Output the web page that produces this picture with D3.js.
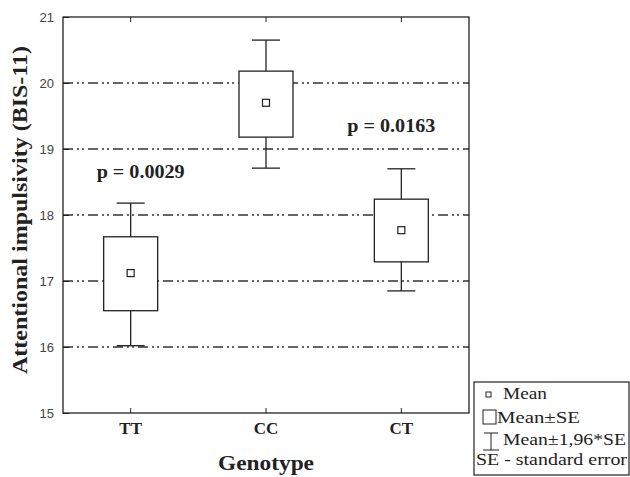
<!DOCTYPE html>
<html>
<head>
<meta charset="utf-8">
<script src="https://cdn.jsdelivr.net/npm/d3@7"></script>
<style>
  body { margin: 0; background: #fff; }
</style>
</head>
<body>
<div id="chart"></div>
<script>
// Data
const genotypes = ['TT', 'CC', 'CT'];
const means = [17.12, 19.70, 17.77];
const seLow = [16.55, 19.18, 17.29];
const seHigh = [17.67, 20.18, 18.24];
const ciLow = [16.02, 18.71, 16.85];
const ciHigh = [18.18, 20.65, 18.70];
const yTicks = [15, 16, 17, 18, 19, 20, 21];
const gridValues = [16, 17, 18, 19, 20];
const pLabels = [
    {text: 'p = 0.0029', cat: 'TT', y: 18.56, dx: 10},
    {text: 'p = 0.0163', cat: 'CT', y: 19.26, dx: -10}
];
const legendItems = ['Mean', 'Mean±SE', 'Mean±1,96*SE', 'SE - standard error'];

const width = 630, height = 477;
const margin = {top: 17, right: 161, bottom: 64, left: 63};
const w = width - margin.left - margin.right;
const h = height - margin.top - margin.bottom;

const svg = d3.select('#chart')
    .append('svg')
    .attr('width', width)
    .attr('height', height);

const g = svg.append('g')
    .attr('transform', `translate(${margin.left},${margin.top})`);

const x = d3.scaleBand()
    .domain(genotypes)
    .range([0, w]);

const y = d3.scaleLinear()
    .domain([15, 21])
    .range([h, 0]);

const serif = '"Liberation Serif", "Times New Roman", serif';
const ink = '#222';

// Grid lines (dash-dot-dot)
g.selectAll('.grid')
    .data(gridValues)
    .enter()
    .append('line')
    .attr('x1', 0)
    .attr('x2', w)
    .attr('y1', d => y(d))
    .attr('y2', d => y(d))
    .attr('stroke', '#333')
    .attr('stroke-width', 1.3)
    .attr('stroke-dasharray', '10,4,2,3,2,4');

// Frame
g.append('rect')
    .attr('width', w)
    .attr('height', h)
    .attr('fill', 'none')
    .attr('stroke', ink)
    .attr('stroke-width', 1.3);

// Y axis
const yAxis = g.append('g')
    .call(d3.axisLeft(y).tickValues(yTicks).tickSize(-6).tickPadding(9).tickFormat(d3.format('d')));
yAxis.select('.domain').remove();
yAxis.selectAll('line').attr('stroke', ink);
yAxis.selectAll('text')
    .attr('font-family', 'Arial, "Liberation Sans", sans-serif')
    .attr('font-size', 13)
    .attr('fill', '#444');

// X axis
const xAxis = g.append('g')
    .attr('transform', `translate(0,${h})`)
    .call(d3.axisBottom(x).tickSize(-5).tickPadding(9));
xAxis.select('.domain').remove();
xAxis.selectAll('line').attr('stroke', ink);
xAxis.selectAll('text')
    .attr('font-family', serif)
    .attr('font-weight', 'bold')
    .attr('font-size', 17)
    .attr('fill', ink);

// Top ticks
g.selectAll('.topTick')
    .data(genotypes)
    .enter()
    .append('line')
    .attr('x1', d => x(d) + x.bandwidth() / 2)
    .attr('x2', d => x(d) + x.bandwidth() / 2)
    .attr('y1', 0)
    .attr('y2', 5)
    .attr('stroke', ink);

// Boxes
const boxW = 54, capW = 28;
const boxes = g.selectAll('.box')
    .data(genotypes)
    .enter()
    .append('g')
    .attr('transform', d => `translate(${x(d) + x.bandwidth() / 2},0)`);

boxes.append('line')
    .attr('x1', 0).attr('x2', 0)
    .attr('y1', (d, i) => y(ciHigh[i]))
    .attr('y2', (d, i) => y(ciLow[i]))
    .attr('stroke', ink).attr('stroke-width', 1.3);

boxes.append('line')
    .attr('x1', -capW / 2).attr('x2', capW / 2)
    .attr('y1', (d, i) => y(ciHigh[i]))
    .attr('y2', (d, i) => y(ciHigh[i]))
    .attr('stroke', ink).attr('stroke-width', 1.3);

boxes.append('line')
    .attr('x1', -capW / 2).attr('x2', capW / 2)
    .attr('y1', (d, i) => y(ciLow[i]))
    .attr('y2', (d, i) => y(ciLow[i]))
    .attr('stroke', ink).attr('stroke-width', 1.3);

boxes.append('rect')
    .attr('x', -boxW / 2)
    .attr('width', boxW)
    .attr('y', (d, i) => y(seHigh[i]))
    .attr('height', (d, i) => y(seLow[i]) - y(seHigh[i]))
    .attr('fill', '#fff')
    .attr('stroke', ink).attr('stroke-width', 1.3);

boxes.append('rect')
    .attr('x', -3.5).attr('width', 7)
    .attr('y', (d, i) => y(means[i]) - 3.5)
    .attr('height', 7)
    .attr('fill', '#fff')
    .attr('stroke', ink).attr('stroke-width', 1.2);

// p-value labels
g.selectAll('.pval')
    .data(pLabels)
    .enter()
    .append('text')
    .attr('x', d => x(d.cat) + x.bandwidth() / 2 + d.dx)
    .attr('y', d => y(d.y))
    .attr('text-anchor', 'middle')
    .attr('font-family', serif)
    .attr('font-weight', 'bold')
    .attr('font-size', 19)
    .attr('textLength', 88)
    .attr('lengthAdjust', 'spacingAndGlyphs')
    .attr('fill', ink)
    .text(d => d.text);

// Axis titles
svg.append('text')
    .attr('x', margin.left + w / 2)
    .attr('y', 470)
    .attr('text-anchor', 'middle')
    .attr('font-family', serif)
    .attr('font-weight', 'bold')
    .attr('font-size', 22)
    .attr('textLength', 96)
    .attr('lengthAdjust', 'spacingAndGlyphs')
    .attr('fill', ink)
    .text('Genotype');

svg.append('text')
    .attr('transform', 'translate(27,210) rotate(-90)')
    .attr('text-anchor', 'middle')
    .attr('font-family', serif)
    .attr('font-weight', 'bold')
    .attr('font-size', 22)
    .attr('textLength', 328)
    .attr('lengthAdjust', 'spacingAndGlyphs')
    .attr('fill', ink)
    .text('Attentional impulsivity (BIS-11)');

// Legend
const lg = svg.append('g').attr('transform', 'translate(474,382)');
lg.append('rect')
    .attr('width', 155)
    .attr('height', 93)
    .attr('fill', '#fff')
    .attr('stroke', ink)
    .attr('stroke-width', 1.2);

const legendX = [29, 23, 29, 2];
const legendW = [44, 83, 123, 151];
const legendY = [17, 41, 63, 83];
legendItems.forEach((t, i) => {
    lg.append('text')
        .attr('x', legendX[i])
        .attr('y', legendY[i])
        .attr('font-family', serif)
        .attr('font-size', 16)
        .attr('textLength', legendW[i])
        .attr('lengthAdjust', 'spacingAndGlyphs')
        .attr('fill', ink)
        .text(t);
});
// legend symbols
lg.append('rect').attr('x', 12).attr('y', 10).attr('width', 5).attr('height', 5)
    .attr('fill', '#fff').attr('stroke', ink);
lg.append('rect').attr('x', 9).attr('y', 28).attr('width', 13).attr('height', 14)
    .attr('fill', '#fff').attr('stroke', ink);
lg.append('path').attr('d', 'M10,51H24M17,51V68M9,68H25')
    .attr('fill', 'none').attr('stroke', ink);
</script>
</body>
</html>
